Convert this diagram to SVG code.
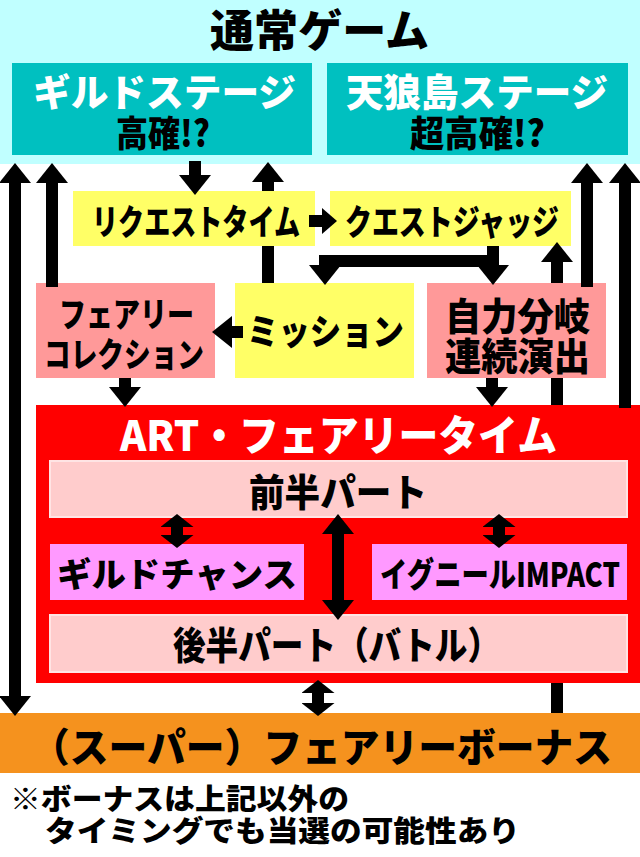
<svg xmlns="http://www.w3.org/2000/svg" width="640" height="857" viewBox="0 0 640 857">
<style>
text{font-family:"Noto Sans CJK JP","Noto Sans",sans-serif;font-weight:900;dominant-baseline:central}
.w{fill:#fff}.k{fill:#000}
.teal{fill:#00c0c0}.yel{fill:#ffff66}.pink{fill:#ff9999}.lp{fill:#ffcccc;stroke:#ffe4e4;stroke-width:2}.vio{fill:#ff99ff}
.c path{fill:none;stroke:#000;stroke-width:12;stroke-linejoin:miter}
</style>
<defs>
<marker id="ah" viewBox="0 0 20 32" refX="0" refY="16" markerWidth="20" markerHeight="32" markerUnits="userSpaceOnUse" orient="auto-start-reverse"><path d="M0,0L20,16L0,32Z" fill="#000"/></marker>
<marker id="as" viewBox="0 0 13 33" refX="0" refY="16.5" markerWidth="13" markerHeight="33" markerUnits="userSpaceOnUse" orient="auto-start-reverse"><path d="M0,0L13,16.5L0,33Z" fill="#000"/></marker>
<marker id="ah2" viewBox="0 0 15 26" refX="0" refY="13" markerWidth="15" markerHeight="26" markerUnits="userSpaceOnUse" orient="auto-start-reverse"><path d="M0,0L15,13L0,26Z" fill="#000"/></marker>
</defs>
<rect width="640" height="857" fill="#fff"/>
<g id="normal">
<rect x="0" y="0" width="640" height="164" fill="#c0ffff"/>
<text x="210" y="28" font-size="44" textLength="219" lengthAdjust="spacingAndGlyphs" class="k">通常ゲーム</text>
</g>
<g id="guild-stage">
<rect x="12" y="63" width="300" height="92" class="teal"/>
<text x="33" y="89" font-size="38" textLength="263" lengthAdjust="spacingAndGlyphs" class="w">ギルドステージ</text>
<text x="116" y="131" font-size="36" textLength="94" lengthAdjust="spacingAndGlyphs" class="k">高確!?</text>
</g>
<g id="tenro-stage">
<rect x="327" y="63" width="301" height="92" class="teal"/>
<text x="346" y="89" font-size="38" textLength="262" lengthAdjust="spacingAndGlyphs" class="w">天狼島ステージ</text>
<text x="410" y="131" font-size="36" textLength="135" lengthAdjust="spacingAndGlyphs" class="k">超高確!?</text>
</g>
<g id="request-time">
<rect x="73" y="191" width="242" height="55" class="yel"/>
<text x="92" y="219" font-size="35" textLength="208" lengthAdjust="spacingAndGlyphs" class="k">リクエストタイム</text>
</g>
<g id="quest-judge">
<rect x="330" y="191" width="241" height="55" class="yel"/>
<text x="345" y="219" font-size="35" textLength="214" lengthAdjust="spacingAndGlyphs" class="k">クエストジャッジ</text>
</g>
<g id="fairy-collection">
<rect x="36" y="283" width="179" height="95" class="pink"/>
<text x="59" y="312" font-size="34" textLength="135" lengthAdjust="spacingAndGlyphs" class="k">フェアリー</text>
<text x="44" y="352" font-size="34" textLength="160" lengthAdjust="spacingAndGlyphs" class="k">コレクション</text>
</g>
<g id="mission">
<rect x="235" y="283" width="179" height="95" class="yel"/>
<text x="247" y="329" font-size="36" textLength="157" lengthAdjust="spacingAndGlyphs" class="k">ミッション</text>
</g>
<g id="branch">
<rect x="427" y="283" width="179" height="95" class="pink"/>
<text x="445" y="313" font-size="38" textLength="145" lengthAdjust="spacingAndGlyphs" class="k">自力分岐</text>
<text x="445" y="353" font-size="38" textLength="145" lengthAdjust="spacingAndGlyphs" class="k">連続演出</text>
</g>
<g id="art">
<rect x="36" y="405" width="604" height="278" fill="#ff0000"/>
<text x="120" y="432" font-size="42" textLength="437" lengthAdjust="spacingAndGlyphs" class="w">ART・フェアリータイム</text>
</g>
<g id="first-half">
<rect x="50" y="461" width="577" height="56" class="lp"/>
<text x="249" y="489" font-size="38" textLength="178" lengthAdjust="spacingAndGlyphs" class="k">前半パート</text>
</g>
<g id="guild-chance">
<rect x="50" y="544" width="254" height="56" class="vio"/>
<text x="57" y="572" font-size="34" textLength="240" lengthAdjust="spacingAndGlyphs" class="k">ギルドチャンス</text>
</g>
<g id="igneel-impact">
<rect x="372" y="544" width="255" height="56" class="vio"/>
<text x="380" y="572" font-size="34" textLength="240" lengthAdjust="spacingAndGlyphs" class="k">イグニールIMPACT</text>
</g>
<g id="second-half">
<rect x="50" y="615" width="577" height="57" class="lp"/>
<text x="173" y="642" font-size="38" textLength="327" lengthAdjust="spacingAndGlyphs" class="k">後半パート（バトル）</text>
</g>
<g id="bonus">
<rect x="0" y="713" width="640" height="60" fill="#f5921e"/>
<text x="31" y="745" font-size="40" textLength="581" lengthAdjust="spacingAndGlyphs" class="k">（スーパー）フェアリーボーナス</text>
</g>
<g id="note">
<text x="10" y="797" font-size="29" textLength="339" lengthAdjust="spacingAndGlyphs" class="k">※ボーナスは上記以外の</text>
<text x="45" y="829" font-size="29" textLength="475" lengthAdjust="spacingAndGlyphs" class="k">タイミングでも当選の可能性あり</text>
</g>
<g id="connectors" class="c">
<path d="M15,183V696" marker-start="url(#ah)" marker-end="url(#ah)"/>
<path d="M52,287V183" marker-end="url(#ah)"/>
<path d="M195,161V175" marker-end="url(#ah)"/>
<path d="M268,191V182" marker-end="url(#ah)"/>
<path d="M268,283V246"/>
<path d="M309,221H322" marker-end="url(#ah2)"/>
<path d="M493,246V265" marker-end="url(#ah)"/>
<path d="M493,261H325V265" marker-end="url(#ah)"/>
<path d="M243,332H232" marker-end="url(#ah)"/>
<path d="M125,378V387" marker-end="url(#ah)"/>
<path d="M492,378V387" marker-end="url(#ah)"/>
<path d="M557,683V713"/>
<path d="M557,405V378"/>
<path d="M557,283V262" marker-end="url(#ah)"/>
<path d="M587,287V183" marker-end="url(#ah)"/>
<path d="M625,408V183" marker-end="url(#ah)"/>
<path d="M177,527V535" marker-start="url(#as)" marker-end="url(#as)"/>
<path d="M338,534V600" marker-start="url(#ah)" marker-end="url(#ah)"/>
<path d="M499,527V535" marker-start="url(#as)" marker-end="url(#as)"/>
<path d="M318,693V703" marker-start="url(#as)" marker-end="url(#as)"/>
</g>
</svg>
